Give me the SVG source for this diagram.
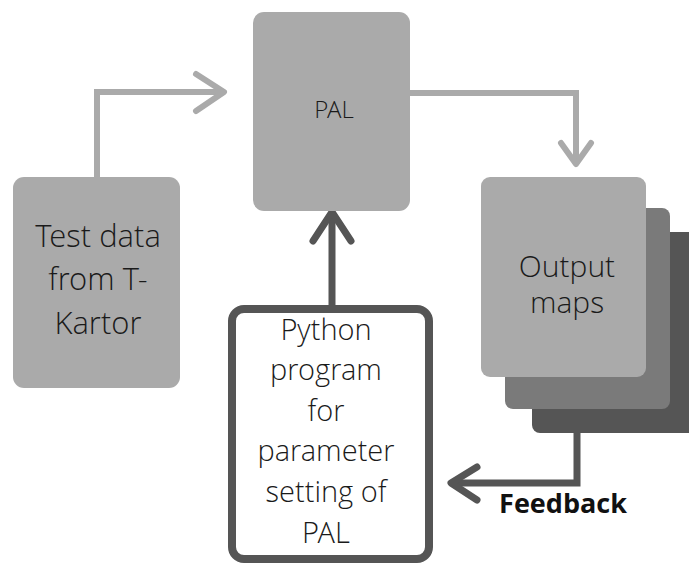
<svg xmlns="http://www.w3.org/2000/svg" width="689" height="565" viewBox="0 0 689 565">
<style>
.lbl{font-family:"Open Sans Light","Open Sans","Liberation Sans",sans-serif;font-weight:300;fill:#1a1a1a;text-anchor:middle}
.light{stroke:#aaaaaa;stroke-width:6;fill:none}
.dark{stroke:#555555;stroke-width:7;fill:none}
.head{stroke-linecap:round;stroke-linejoin:round}
</style>
<rect width="689" height="565" fill="#ffffff"/>
<g id="connectors">
  <polyline class="light" points="97,177 97,92 224,92"/>
  <polyline class="light head" points="196,74 224,92 196,111"/>
  <polyline class="light" points="410,93 576,93 576,162"/>
  <polyline class="light head" points="561,143 576,164 591,143"/>
  <line class="dark" x1="332" y1="305" x2="332" y2="216"/>
  <polyline class="dark head" points="313,241 332,212 351,241"/>
  <polyline class="dark" points="577,433 577,483 454,483" stroke-width="6"/>
  <polyline class="dark head" points="477,467 451,483 477,500" stroke-width="6"/>
</g>
<g id="test-data">
  <rect x="13" y="177" width="167" height="211" rx="11" fill="#aaaaaa"/>
  <text class="lbl" font-size="31" x="98" y="247">Test data</text>
  <text class="lbl" font-size="31" x="98" y="290">from T-</text>
  <text class="lbl" font-size="31" x="98" y="334">Kartor</text>
</g>
<g id="pal">
  <rect x="253" y="12" width="157" height="199" rx="11" fill="#aaaaaa"/>
  <text class="lbl" font-size="24" x="334" y="118">PAL</text>
</g>
<g id="output-maps">
  <rect x="532" y="232" width="170" height="201" rx="8" fill="#555555"/>
  <rect x="505" y="208" width="165" height="201" rx="8" fill="#7a7a7a"/>
  <rect x="481" y="177" width="165" height="200" rx="9" fill="#aaaaaa"/>
  <text class="lbl" font-size="30" x="567" y="277">Output</text>
  <text class="lbl" font-size="30" x="567" y="313">maps</text>
</g>
<g id="python">
  <rect x="232" y="309" width="197" height="250" rx="12" fill="#ffffff" stroke="#555555" stroke-width="8"/>
  <text class="lbl" font-size="29" x="326" y="340">Python</text>
  <text class="lbl" font-size="29" x="326" y="380">program</text>
  <text class="lbl" font-size="29" x="326" y="421">for</text>
  <text class="lbl" font-size="29" x="326" y="461">parameter</text>
  <text class="lbl" font-size="29" x="326" y="502">setting of</text>
  <text class="lbl" font-size="29" x="326" y="543">PAL</text>
</g>
<g id="feedback-label">
  <text x="563" y="513" font-family="'Open Sans','Liberation Sans',sans-serif" font-weight="700" font-size="27" fill="#111111" text-anchor="middle">Feedback</text>
</g>
</svg>
